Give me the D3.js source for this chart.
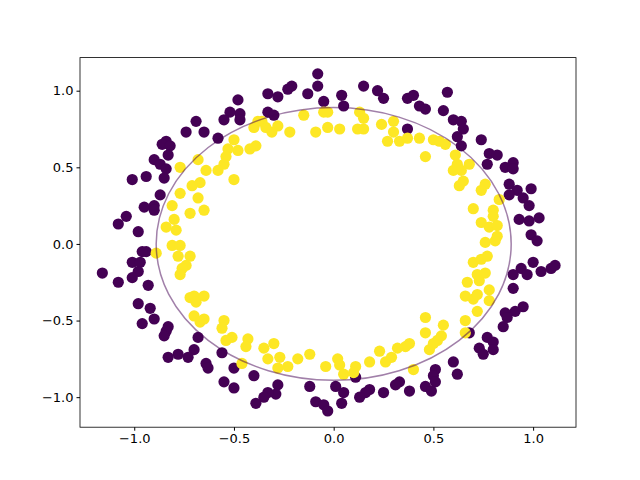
<!DOCTYPE html>
<meta charset="utf-8">
<head>
    <title>Circles</title>
    <script src="https://cdn.jsdelivr.net/npm/d3@7"></script>
</head>
<style>
    body { margin: 0; background: white; }
    text { font-family: "DejaVu Sans", sans-serif; }
</style>
<svg></svg>
<script>
    var vWidth = 640, vHeight = 480;
    var vTicks = [-1.0, -0.5, 0.0, 0.5, 1.0];
    var vRadius = 0.89;

    // outer ring (class 0)
    var vOuter = [
        [-0.08,1.11],[-0.08,1.03],[-0.05,0.93],[-0.13,0.98],[-0.21,1.03],[-0.23,1.01],[-0.33,0.98],[-0.28,0.96],
        [-0.33,0.86],[-0.30,0.84],[-0.48,0.94],[-0.47,0.85],[-0.47,0.81],[-0.52,0.86],[-0.55,0.81],[-0.58,0.69],
        [-0.65,0.73],[-0.69,0.80],[-0.74,0.73],[-0.84,0.67],[-0.86,0.65],[-0.82,0.64],[-0.83,0.58],[-0.90,0.55],
        [-0.87,0.52],[-0.84,0.49],[-0.85,0.43],[-0.94,0.44],[-1.01,0.42],[-0.87,0.32],[-0.95,0.24],[-0.90,0.25],
        [-0.90,0.22],[-1.04,0.18],[-1.08,0.13],[-0.98,0.08],
        [0.04,0.97],[0.05,0.90],[0.15,1.03],[0.22,1.00],[0.25,0.95],[0.37,0.95],[0.40,0.97],[0.43,0.90],
        [0.46,0.88],[0.57,0.99],[0.55,0.87],[0.60,0.81],[0.64,0.80],[0.65,0.75],[0.37,0.75],[0.62,0.70],
        [0.64,0.64],[0.74,0.68],[0.78,0.59],[0.82,0.58],[0.77,0.52],[0.86,0.50],[0.90,0.53],[0.90,0.49],
        [0.88,0.39],[0.92,0.35],[0.88,0.32],[0.99,0.36],[0.95,0.30],[0.98,0.25],[0.93,0.16],[0.98,0.15],
        [1.03,0.17],[0.99,0.06],[1.02,0.02],
        [-0.94,-0.05],[-0.96,-0.05],[-1.01,-0.12],[-0.97,-0.12],[-0.98,-0.18],[-1.01,-0.22],[-1.16,-0.19],
        [-1.08,-0.25],[-0.93,-0.27],[-0.98,-0.39],[-0.92,-0.42],[-0.90,-0.49],[-0.96,-0.52],[-0.83,-0.54],
        [-0.84,-0.57],[-0.85,-0.60],[-0.68,-0.61],[-0.70,-0.69],[-0.73,-0.74],[-0.78,-0.72],[-0.83,-0.74],
        [-0.64,-0.78],[-0.63,-0.81],[-0.56,-0.71],[-0.50,-0.81],[-0.55,-0.90],[-0.50,-0.94],[-0.40,-0.86],
        [-0.28,-0.92],[-0.29,-0.98],[-0.33,-0.97],[-0.35,-1.00],[-0.39,-1.04],[-0.12,-0.93],[-0.09,-1.03],
        [-0.05,-1.05],[-0.03,-1.09],
        [1.00,-0.12],[1.04,-0.18],[1.09,-0.16],[1.11,-0.14],[0.94,-0.16],[0.90,-0.20],[0.97,-0.20],[0.90,-0.29],
        [0.95,-0.41],[0.91,-0.44],[0.86,-0.45],[0.87,-0.48],[0.85,-0.54],[0.68,-0.58],[0.77,-0.61],[0.80,-0.64],
        [0.73,-0.68],[0.75,-0.72],[0.80,-0.69],[0.60,-0.77],[0.62,-0.85],[0.51,-0.82],[0.50,-0.86],[0.51,-0.90],
        [0.46,-0.93],[0.49,-0.96],[0.38,-0.96],[0.33,-0.90],[0.31,-0.92],[0.25,-0.97],[0.18,-0.95],[0.16,-0.97],
        [0.13,-1.00],[0.11,-0.87],[0.01,-0.93],[0.05,-0.97],[0.04,-1.04]
    ];

    // inner ring (class 1)
    var vInner = [
        [-0.05,0.86],[-0.03,0.76],[-0.09,0.73],[-0.15,0.84],[-0.22,0.73],[-0.28,0.77],[-0.31,0.73],[-0.34,0.76],
        [-0.36,0.80],[-0.40,0.76],[-0.38,0.80],[-0.39,0.64],[-0.42,0.62],[-0.50,0.68],[-0.53,0.62],[-0.48,0.61],
        [-0.54,0.57],[-0.55,0.52],[-0.58,0.48],[-0.50,0.42],[-0.64,0.48],[-0.68,0.55],[-0.77,0.50],[-0.67,0.40],
        [-0.71,0.38],[-0.77,0.33],[-0.68,0.30],[-0.65,0.22],[-0.72,0.20],[-0.81,0.25],[-0.80,0.16],[-0.84,0.11],
        [-0.79,0.09],[-0.81,-0.01],[-0.77,-0.01],
        [-0.03,0.86],[0.03,0.75],[0.13,0.86],[0.15,0.82],[0.12,0.75],[0.15,0.75],[0.24,0.78],[0.30,0.80],
        [0.30,0.73],[0.27,0.67],[0.33,0.67],[0.37,0.69],[0.43,0.69],[0.50,0.68],[0.53,0.67],[0.56,0.65],
        [0.46,0.57],[0.61,0.58],[0.62,0.52],[0.68,0.52],[0.60,0.48],[0.64,0.48],[0.65,0.41],[0.63,0.38],
        [0.76,0.39],[0.74,0.35],[0.83,0.29],[0.70,0.23],[0.80,0.22],[0.80,0.18],[0.74,0.14],[0.78,0.11],
        [0.82,0.12],[0.82,0.05],[0.76,0.01],[0.81,0.02],
        [-0.89,-0.06],[-0.78,-0.08],[-0.72,-0.08],[-0.74,-0.14],[-0.76,-0.16],[-0.77,-0.20],[-0.72,-0.35],
        [-0.70,-0.34],[-0.69,-0.38],[-0.65,-0.34],[-0.70,-0.47],[-0.67,-0.51],[-0.65,-0.49],[-0.55,-0.50],
        [-0.56,-0.55],[-0.51,-0.61],[-0.54,-0.63],[-0.43,-0.62],[-0.44,-0.67],[-0.35,-0.68],[-0.30,-0.65],
        [-0.27,-0.74],[-0.33,-0.75],[-0.28,-0.81],[-0.23,-0.80],[-0.18,-0.75],[-0.12,-0.72],[-0.04,-0.80],
        [-0.46,-0.78],
        [0.70,-0.12],[0.74,-0.10],[0.77,-0.08],[0.72,-0.20],[0.76,-0.19],[0.73,-0.24],[0.67,-0.25],[0.78,-0.30],
        [0.66,-0.34],[0.70,-0.36],[0.72,-0.33],[0.78,-0.37],[0.72,-0.44],[0.66,-0.50],[0.66,-0.58],[0.46,-0.48],
        [0.55,-0.53],[0.46,-0.58],[0.54,-0.60],[0.52,-0.63],[0.50,-0.65],[0.48,-0.69],[0.38,-0.65],[0.36,-0.67],
        [0.32,-0.68],[0.29,-0.74],[0.26,-0.77],[0.23,-0.70],[0.18,-0.77],[0.40,-0.82],[0.11,-0.80],[0.10,-0.84],
        [0.02,-0.75],[0.03,-0.79],[0.05,-0.85]
    ];

    var vLeft = 80, vRight = 576, vTop = 57.6, vBottom = 427.2;
    var svg = d3.select('svg').attr('width', vWidth).attr('height', vHeight);

    var x = d3.scaleLinear().domain([-1.272, 1.215]).range([vLeft, vRight]);
    var y = d3.scaleLinear().domain([-1.196, 1.216]).range([vBottom, vTop]);

    var vPts = vOuter.map(function (d) { return {p: d, c: '#440154'}; })
        .concat(vInner.map(function (d) { return {p: d, c: '#fde725'}; }));

    svg.append('g').selectAll('circle').data(vPts).enter().append('circle')
        .attr('cx', function (d) { return x(d.p[0]); })
        .attr('cy', function (d) { return y(d.p[1]); })
        .attr('r', 5.6)
        .attr('fill', function (d) { return d.c; });

    // decision boundary
    svg.append('ellipse')
        .attr('cx', x(0)).attr('cy', y(0))
        .attr('rx', x(vRadius) - x(0)).attr('ry', y(0) - y(vRadius))
        .attr('fill', 'none').attr('stroke', '#440154').attr('stroke-opacity', 0.5).attr('stroke-width', 1.5);

    // axes
    var fmt = d3.format('.1f');
    var gx = svg.append('g').attr('transform', 'translate(0,' + vBottom + ')')
        .call(d3.axisBottom(x).tickValues(vTicks).tickFormat(function (d) { return fmt(d).replace('-', '\u2212'); }).tickSize(3.5).tickSizeOuter(0));
    var gy = svg.append('g').attr('transform', 'translate(' + vLeft + ',0)')
        .call(d3.axisLeft(y).tickValues(vTicks).tickFormat(function (d) { return fmt(d).replace('-', '\u2212'); }).tickSize(3.5).tickSizeOuter(0));
    svg.selectAll('.tick text').attr('font-size', 13).attr('font-family', 'DejaVu Sans').attr('fill', 'black');
    svg.selectAll('.tick line').attr('stroke', 'black');
    gx.select('.domain').remove();
    gy.select('.domain').remove();

    svg.append('rect').attr('x', vLeft).attr('y', vTop)
        .attr('width', vRight - vLeft).attr('height', vBottom - vTop)
        .attr('fill', 'none').attr('stroke', 'black').attr('stroke-width', 0.8);
</script>
